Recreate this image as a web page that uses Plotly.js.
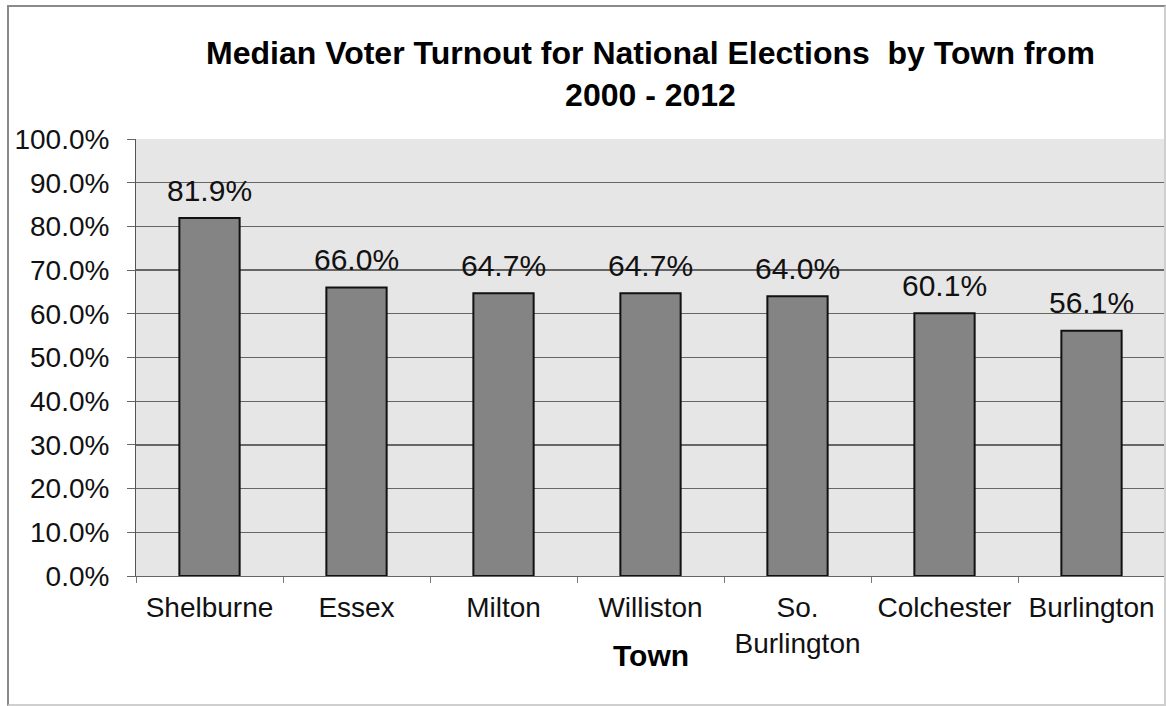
<!DOCTYPE html>
<html>
<head>
<meta charset="utf-8">
<script src="https://cdn.plot.ly/plotly-3.0.1.min.js"></script>
<style>
  html, body { margin: 0; padding: 0; background: #fff; }
  #chart { width: 1166px; height: 706px; }
  #frame { position: absolute; left: 7px; top: 5px; width: 1155px; height: 697px;
           border: 2px solid #8a8a8a; border-right-color: #cfcfcf; border-bottom-color: #cfcfcf;
           pointer-events: none; }
</style>
</head>
<body>
<div id="chart"></div>
<div id="frame"></div>
<script>
const towns = ["Shelburne", "Essex", "Milton", "Williston", "So.<br>Burlington", "Colchester", "Burlington"];
const turnout = [0.819, 0.660, 0.647, 0.647, 0.640, 0.601, 0.561];
const labels = ["81.9%", "66.0%", "64.7%", "64.7%", "64.0%", "60.1%", "56.1%"];
const yTicks = [0, 0.1, 0.2, 0.3, 0.4, 0.5, 0.6, 0.7, 0.8, 0.9, 1.0];
const yTickText = ["0.0%", "10.0%", "20.0%", "30.0%", "40.0%", "50.0%", "60.0%", "70.0%", "80.0%", "90.0%", "100.0%"];
const xTitle = "Town";

const font = "Liberation Sans, Arial, sans-serif";

const trace = {
  type: "bar",
  x: towns,
  y: turnout,
  width: 0.41,
  marker: { color: "#848484", line: { color: "#111", width: 2 } },
  hoverinfo: "skip"
};

const annotations = towns.map((t, i) => ({
  x: t, y: turnout[i], xref: "x", yref: "y",
  text: labels[i], showarrow: false,
  yanchor: "middle", yshift: 28,
  font: { family: font, size: 30, color: "#111" }
}));

annotations.push({
  x: 0.5, xref: "paper", xanchor: "center",
  y: -79 / 437, yref: "paper", yanchor: "middle",
  text: "<b>" + xTitle + "</b>", showarrow: false,
  font: { family: font, size: 30, color: "#000" }
});

const layout = {
  width: 1166, height: 706,
  margin: { l: 136, r: 1, t: 139, b: 130 },
  paper_bgcolor: "#ffffff",
  plot_bgcolor: "#e6e6e6",
  showlegend: false,
  title: {
    text: "<b>Median Voter Turnout for National Elections  by Town from<br>2000 - 2012</b>",
    font: { family: font, size: 32, color: "#000" },
    x: 0.5, xref: "paper", xanchor: "center",
    y: 1 - 64 / 706, yref: "container", yanchor: "middle"
  },
  xaxis: {
    type: "category",
    tickfont: { family: font, size: 28, color: "#111" },
    ticks: "outside", tickson: "boundaries", ticklen: 6, tickcolor: "#777",
    showline: true, linecolor: "#666", linewidth: 1,
    showgrid: false,
    ticklabelstandoff: 6,
    automargin: false
  },
  yaxis: {
    range: [0, 1.0],
    tickvals: yTicks, ticktext: yTickText,
    tickfont: { family: font, size: 28, color: "#111" },
    ticks: "outside", ticklen: 8, tickcolor: "#666",
    showline: true, linecolor: "#555", linewidth: 1,
    showgrid: true, gridcolor: "#666666", gridwidth: 1.3,
    zeroline: false,
    ticklabelstandoff: 12,
    automargin: false
  },
  annotations: annotations
};

Plotly.newPlot("chart", [trace], layout, { displayModeBar: false, staticPlot: true });
</script>
</body>
</html>
